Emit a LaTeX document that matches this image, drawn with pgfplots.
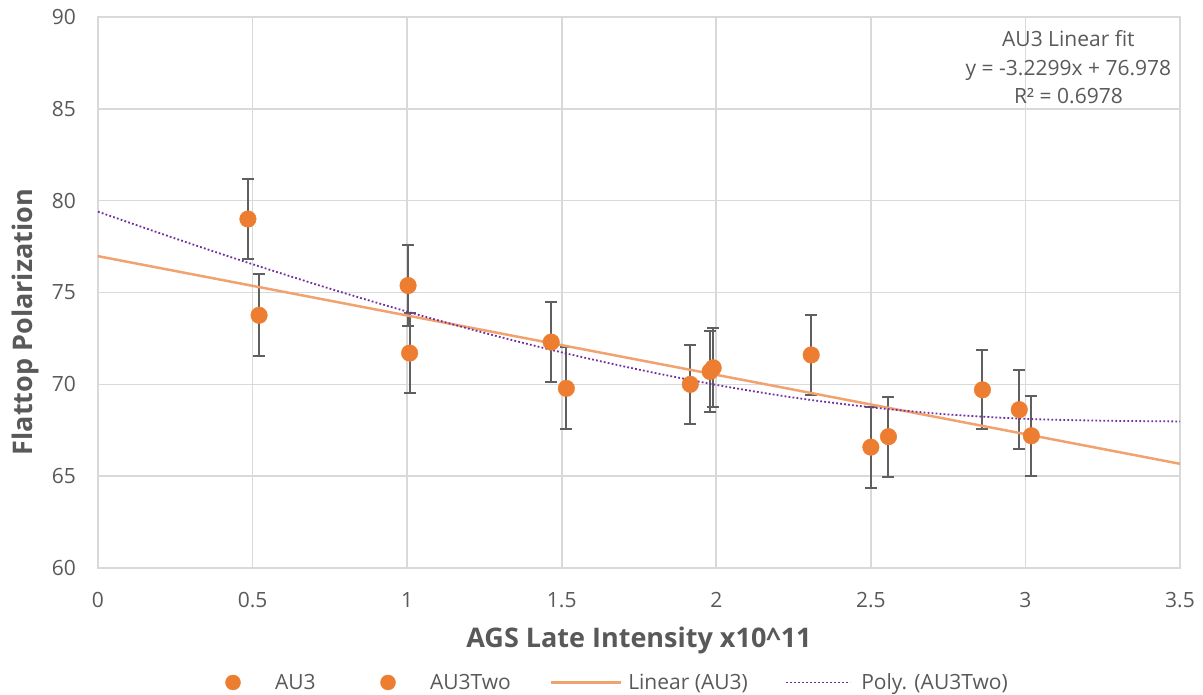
\documentclass[border=0pt]{standalone}
\usepackage{pgfplots}
\pgfplotsset{compat=1.18}
\usepackage{pgfplotstable}
\usepackage{fontspec}
\setmainfont{Open Sans}

\definecolor{ptorange}{HTML}{ED7D31}
\definecolor{fitorange}{HTML}{F2A26E}
\definecolor{polypurple}{HTML}{7030A0}
\definecolor{gridgray}{HTML}{D9D9D9}
\definecolor{txtgray}{HTML}{595959}
\definecolor{errgray}{HTML}{5F5F5F}

% Polarization measurements (x in 10^11, y in %, symmetric error)
\pgfplotstableread{
x      y      e
0.485  79.00  2.20
1.003  75.38  2.20
1.466  72.30  2.18
1.916  70.00  2.16
1.990  70.90  2.16
2.307  71.60  2.16
2.500  66.58  2.20
}\authree
\pgfplotstableread{
x      y      e
0.521  73.76  2.22
1.008  71.70  2.18
1.515  69.78  2.23
1.980  70.70  2.18
2.557  67.15  2.17
2.861  69.70  2.15
2.980  68.62  2.14
3.019  67.20  2.17
}\authreetwo
% Trend lines
\pgfplotstableread{
x     y
0     76.978
3.5   65.673
}\linfit
\pgfplotstableread{
x     y
0.00  79.40
0.25  77.94
0.50  76.54
0.75  75.21
1.00  73.96
1.25  72.80
1.50  71.74
1.75  70.80
2.00  69.97
2.25  69.28
2.50  68.75
2.75  68.36
3.00  68.12
3.25  68.02
3.50  67.98
}\polyfit

\pgfplotsset{
  errstyle/.style={only marks, mark=none, forget plot,
    error bars/.cd, y dir=both, y explicit,
    error bar style={errgray, line width=2pt},
    error mark options={rotate=90, mark size=6pt, line width=2pt, errgray}},
  dotlegend/.style={legend image code/.code={
    \path[draw=none] (-20pt,0pt) -- (42pt,0pt);
    \fill[ptorange] (0pt,0pt) circle (7.5pt);}},
}

\begin{document}
\begin{tikzpicture}[x=1pt,y=1pt]
\path[use as bounding box] (0,0) rectangle (1203,-695);
\begin{axis}[
  at={(98pt,-17pt)}, anchor=north west,
  scale only axis, width=1082pt, height=551pt,
  xmin=0, xmax=3.5, ymin=60, ymax=90,
  xtick={0,0.5,...,3.5}, ytick={60,65,...,90},
  xticklabels={0,0.5,1,1.5,2,2.5,3,3.5},
  grid=major,
  major grid style={draw=gridgray, line width=1.6pt},
  axis line style={draw=gridgray, line width=1.6pt},
  major tick length=0pt,
  tick label style={font=\fontsize{21}{24}\selectfont, text=txtgray, inner sep=0pt},
  /pgf/number format/assume math mode=true,
  yticklabel style={anchor=east, xshift=-22pt},
  xticklabel style={anchor=north, yshift=-24pt},
  xlabel={\textbf{AGS Late Intensity x10\textasciicircum 11}},
  ylabel={\textbf{Flattop Polarization}},
  label style={font=\fontsize{27}{30}\selectfont, text=txtgray, inner sep=0pt},
  xlabel style={at={(axis description cs:0.5,-0.1434)}, anchor=base},
  ylabel style={at={(axis description cs:-0.0601,0.4465)}, anchor=base},
  legend columns=4,
  legend style={at={(axis description cs:0.1063,-0.2078)}, anchor=west,
    draw=none, fill=none, inner sep=0pt, outer sep=0pt,
    font=\fontsize{21}{24}\selectfont, text=txtgray,
    nodes={inner sep=0pt}, column sep=0pt},
  legend cell align=left,
  clip=false,
]
% error bars first, so the markers sit on top of them
\addplot[errstyle] table[x=x, y=y, y error=e] {\authree};
\addplot[errstyle] table[x=x, y=y, y error=e] {\authreetwo};

\addplot[only marks, mark=*, mark size=8.3pt, color=ptorange, dotlegend]
  table[x=x, y=y] {\authree};
\addlegendentry{\makebox[93pt][l]{\vphantom{(}AU3}}
\addplot[only marks, mark=*, mark size=8.3pt, color=ptorange, dotlegend]
  table[x=x, y=y] {\authreetwo};
\addlegendentry{\makebox[120pt][l]{\vphantom{(}AU3Two}}
\addplot[fitorange, line width=2.5pt, no marks,
  legend image code/.code={\path[draw=none] (0pt,0pt) -- (77pt,0pt);
    \draw[fitorange, line width=2.5pt] (0pt,0pt) -- (70pt,0pt);}]
  table[x=x, y=y] {\linfit};
\addlegendentry{\makebox[155pt][l]{Linear (AU3)}}
\addplot[polypurple, line width=1.8pt, no marks, smooth,
  dash pattern=on 1.8pt off 2.2pt,
  legend image code/.code={\path[draw=none] (0pt,0pt) -- (78pt,0pt);
    \draw[polypurple, line width=1.6pt, dash pattern=on 1.6pt off 2.4pt]
      (3pt,0pt) -- (67pt,0pt);}]
  table[x=x, y=y] {\polyfit};
\addlegendentry{Poly. (AU3Two)}

\node[align=center, anchor=north, text=txtgray, inner sep=0pt,
  font=\fontsize{21}{28.3}\selectfont] at (axis cs:3.139,89.254)
  {AU3 Linear fit\\y = -3.2299x + 76.978\\R² = 0.6978};
\end{axis}
\end{tikzpicture}
\end{document}
